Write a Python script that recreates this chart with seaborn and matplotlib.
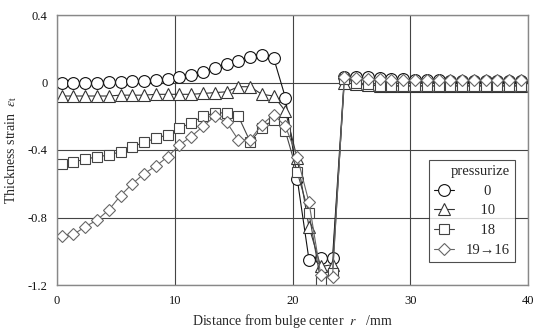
import matplotlib
matplotlib.use("Agg")
import matplotlib.pyplot as plt
import seaborn as sns

# ---------------- data ----------------
r = [0.4, 1.4, 2.4, 3.4, 4.4, 5.4, 6.4, 7.4, 8.4, 9.4,
     10.4, 11.4, 12.4, 13.4, 14.4, 15.4, 16.4, 17.4, 18.4, 19.4,
     20.4, 21.4, 22.4, 23.4, 24.4, 25.4, 26.4, 27.4, 28.4, 29.4,
     30.4, 31.4, 32.4, 33.4, 34.4, 35.4, 36.4, 37.4, 38.4, 39.4]

eps_0 = [0.0, 0.0, 0.0, 0.0, 0.005, 0.005, 0.01, 0.01, 0.015, 0.02,
         0.03, 0.045, 0.06, 0.085, 0.11, 0.13, 0.15, 0.165, 0.145, -0.09,
         -0.57, -1.05, -1.04, -1.04, 0.03, 0.03, 0.03, 0.025, 0.02, 0.02,
         0.015, 0.015, 0.015, 0.01, 0.01, 0.01, 0.01, 0.01, 0.01, 0.01]

eps_10 = [-0.08, -0.08, -0.08, -0.08, -0.08, -0.075, -0.075, -0.075, -0.07, -0.07,
          -0.07, -0.07, -0.065, -0.06, -0.055, -0.025, -0.025, -0.07, -0.08, -0.17,
          -0.45, -0.855, -1.09, -1.08, 0.0, -0.01, -0.015, -0.02, -0.02, -0.02,
          -0.02, -0.02, -0.02, -0.02, -0.02, -0.02, -0.02, -0.02, -0.02, -0.02]

eps_18 = [-0.48, -0.47, -0.455, -0.44, -0.43, -0.41, -0.38, -0.355, -0.33, -0.31,
          -0.27, -0.24, -0.2, -0.18, -0.18, -0.2, -0.35, -0.27, -0.22, -0.29,
          -0.53, -0.775, -1.18, -1.13, 0.02, 0.0, -0.01, -0.02, -0.02, -0.02,
          -0.02, -0.02, -0.02, -0.02, -0.02, -0.02, -0.02, -0.02, -0.02, -0.02]

eps_19 = [-0.91, -0.9, -0.855, -0.815, -0.755, -0.67, -0.6, -0.54, -0.495, -0.44,
          -0.37, -0.32, -0.26, -0.2, -0.235, -0.34, -0.34, -0.25, -0.19, -0.26,
          -0.44, -0.71, -1.14, -1.15, 0.03, 0.025, 0.02, 0.02, 0.015, 0.015,
          0.015, 0.015, 0.015, 0.015, 0.015, 0.015, 0.015, 0.015, 0.015, 0.015]

labels = ["0", "10", "18", "19\u219216"]
xticks = [0, 10, 20, 30, 40]
yticks = [0.4, 0.0, -0.4, -0.8, -1.2]
yticklabels = ["0.4", "0", "-0.4", "-0.8", "-1.2"]

# ---------------- style ----------------
sns.set_style("white")
plt.rcParams["font.family"] = ["Liberation Serif", "DejaVu Serif"]
plt.rcParams["mathtext.fontset"] = "stix"

fig = plt.figure(figsize=(5.35, 3.29), dpi=100)
ax = fig.add_axes([57 / 535, 44 / 329, 471 / 535, 270 / 329])

series = [eps_0, eps_10, eps_18, eps_19]
markers = ["o", "^", "s", "D"]
msizes = [8.5, 8.5, 7.5, 6.3]
colors = ["#111111", "#333333", "#444444", "#666666"]

handles = []
for ys, m, ms, c, lab in zip(series, markers, msizes, colors, labels):
    sns.lineplot(x=r, y=ys, ax=ax, estimator=None, sort=False,
                 color=c, linewidth=0.8, marker=m, markersize=ms,
                 markerfacecolor="white", markeredgecolor=c,
                 markeredgewidth=0.8, label=lab, legend=False)
    handles.append(ax.lines[-1])

ax.set_xlim(0, 40)
ax.set_ylim(-1.2, 0.4)
ax.set_xticks(xticks)
ax.set_yticks(yticks)
ax.set_yticklabels(yticklabels)
ax.tick_params(axis="both", length=0, labelsize=9, colors="#111111")
ax.tick_params(axis="x", pad=7)
ax.tick_params(axis="y", pad=7)

ax.grid(True, color="#444444", linewidth=0.8)
ax.set_axisbelow(True)
for s in ax.spines.values():
    s.set_color("#888888")
    s.set_linewidth(1.0)
    s.set_visible(True)

ax.set_xlabel("Distance from bulge center  $r$   /mm", fontsize=10, labelpad=4)
ax.set_ylabel("Thickness strain  $\\varepsilon$$_{\\rm t}$", fontsize=10, labelpad=6)

leg = ax.legend(handles=handles,
                labels=["     0", "    10", "    18", "19\u219216"],
                title="pressurize", alignment="right",
                loc="lower right", bbox_to_anchor=(0.972, 0.085),
                borderaxespad=0, frameon=True, fancybox=False,
                edgecolor="#222222", fontsize=10.5, title_fontsize=10.5,
                handlelength=1.4, labelspacing=0.45, handletextpad=0.8,
                borderpad=0.35)
leg.get_frame().set_linewidth(0.8)

fig.savefig("out.png", dpi=100)
